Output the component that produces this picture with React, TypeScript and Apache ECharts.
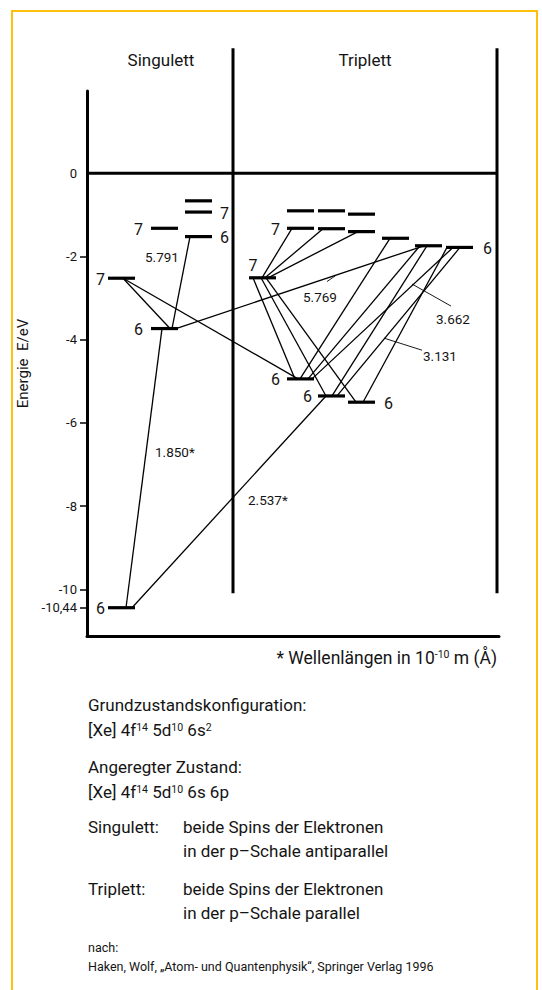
import { useEffect, useRef } from "react";
import * as echarts from "echarts";

// ---------- data ----------
const energyTickLabels = [0, -2, -4, -6, -8, -10, -10.44];
const energyTickMarks = [-2, -4, -6, -8, -10, -10.44];

// energy levels of mercury (Hg)
const levelIds = ["S6", "S7", "P6", "P7", "D6", "D7", "D8", "tS7", "tP0_6", "tP1_6", "tP2_6", "tP0_7", "tP1_7", "tP2_7", "tP0_8", "tP1_8", "tP2_8", "tD1", "tD2", "tD3"];
const levelColumns = ["sS", "sS", "sP", "sP", "sD", "sD", "sD", "tS", "tP0", "tP1", "tP2", "tP0", "tP1", "tP2", "tP0", "tP1", "tP2", "tD1", "tD2", "tD3"];
const levelEnergies = [-10.44, -2.52, -3.73, -1.32, -1.52, -0.93, -0.66, -2.51, -4.94, -5.35, -5.5, -1.32, -1.33, -1.4, -0.9, -0.9, -0.98, -1.56, -1.74, -1.78];
const levelLabels = ["6", "7", "6", "7", "6", "7", "", "7", "6", "6", "6", "7", "", "", "", "", "", "", "", "6"];

// transitions (from level, to level)
const transitionFrom = ["S6", "P6", "S7", "S7", "P6", "tS7", "tS7", "tS7", "tS7", "tS7", "tS7", "S6", "tD1", "tD2", "tD2", "tD3", "tD3", "tD3"];
const transitionTo = ["P6", "D6", "P6", "tP0_6", "tD2", "tP0_7", "tP1_7", "tP2_7", "tP0_6", "tP1_6", "tP2_6", "tP1_6", "tP0_6", "tP0_6", "tP1_6", "tP2_6", "tP0_6", "tP1_6"];
// wavelengths in 10^-10 m (thousands)
const wavelengthLabels = ["1.850*", "5.791", "5.769", "2.537*", "3.662", "3.131"];

// ---------- layout (not data) ----------
const COLUMN_START: Record<string, number> = { sS: 21, sP: 64, sD: 98, tS: 162, tP0: 200, tP1: 231, tP2: 261, tD1: 295, tD2: 328, tD3: 359 };
const LEVEL_WIDTH = 27;
const fromOffset = [18, 21, 15, 15, 25, 13, 16, 19, 4, 12, 17, 24, 8, 5, 12, 1, 7, 14];
const toOffset = [11, 5, 19, 11, 9, 5, 5, 10, 8, 8, 8, 8, 13, 21, 14, 15, 25, 19];
const labelSide = ["left", "left", "left", "left", "right", "right", "", "top", "left", "left", "right", "left", "", "", "", "", "", "", "", "right"];
const labelGap = [3, 3, 8, 8, 8, 8, 0, 4, 7, 6, 9, 7, 0, 0, 0, 0, 0, 0, 0, 10];
// wavelength label anchor (x units, energy)
const wlPos: [number, number][] = [[68, -6.7], [58, -2.01], [216, -2.97], [161, -7.85], [349, -3.5], [336, -4.39]];
// leader lines for some labels
const leaders: [number, number, number, number][] = [
  [240, -2.6, 249, -2.45],
  [325, -2.66, 364, -3.19],
  [297, -3.96, 335, -4.25],
];

const FONT = "Roboto, 'Noto Sans', sans-serif";
const INK = "#141414";
const BORDER = "#FDC010";

function levelIndex(id: string) {
  return levelIds.indexOf(id);
}

export default function App() {
  const ref = useRef<HTMLDivElement>(null);

  useEffect(() => {
    if (!ref.current) return;
    const chart = echarts.init(ref.current, undefined, { renderer: "svg" });

    const levelData = levelIds.map((_, i) => {
      const x0 = COLUMN_START[levelColumns[i]];
      return [x0, levelEnergies[i], x0 + LEVEL_WIDTH, levelEnergies[i]];
    });

    const transitionData = transitionFrom.map((f, k) => {
      const a = levelIndex(f);
      const b = levelIndex(transitionTo[k]);
      return [
        COLUMN_START[levelColumns[a]] + fromOffset[k],
        levelEnergies[a],
        COLUMN_START[levelColumns[b]] + toOffset[k],
        levelEnergies[b],
      ];
    });

    const labelData = levelIds
      .map((_, i) => i)
      .filter((i) => levelLabels[i] !== "")
      .map((i) => {
        const x0 = COLUMN_START[levelColumns[i]];
        const side = labelSide[i];
        const x = side === "right" ? x0 + LEVEL_WIDTH : side === "top" ? x0 + 4 : x0;
        return [x, levelEnergies[i], i];
      });

    const lineItem = (w: number) => (params: any, api: any) => {
      const p0 = api.coord([api.value(0), api.value(1)]);
      const p1 = api.coord([api.value(2), api.value(3)]);
      return {
        type: "line",
        shape: { x1: p0[0], y1: p0[1], x2: p1[0], y2: p1[1] },
        style: { stroke: "#000", lineWidth: w, lineCap: "butt" },
      };
    };

    const structLine = (data: number[][]) => ({
      type: "line",
      data,
      symbol: "none",
      clip: false,
      silent: true,
      lineStyle: { color: "#000", width: 3 },
    });

    const richSup = { s: { fontSize: 10.5, fontFamily: FONT, verticalAlign: "top", fill: INK } };

    const borderLine = (x1: number, y1: number, x2: number, y2: number) => ({
      type: "line",
      shape: { x1, y1, x2, y2 },
      style: { stroke: BORDER, lineWidth: 2 },
      silent: true,
    });

    chart.setOption({
      animation: false,
      grid: { left: 87, right: 43, top: 91, bottom: 354 },
      xAxis: {
        type: "value",
        min: 0,
        max: 412,
        axisLine: { show: true, onZero: false, lineStyle: { color: "#000", width: 3 } },
        axisTick: { show: false },
        axisLabel: { show: false },
        splitLine: { show: false },
      },
      yAxis: {
        type: "value",
        min: -11.12,
        max: 1.98,
        name: "Energie  E/eV",
        nameLocation: "middle",
        nameGap: 38,
        nameRotate: 90,
        nameTextStyle: { fontFamily: FONT, fontSize: 15, color: INK },
        axisLine: { show: true, onZero: false, lineStyle: { color: "#000", width: 3 } },
        axisTick: { show: true, customValues: energyTickMarks, length: 7, lineStyle: { color: "#000", width: 1.5 } },
        axisLabel: {
          customValues: energyTickLabels,
          margin: 10,
          fontFamily: FONT,
          fontSize: 13,
          color: INK,
          formatter: (v: number) => (Math.abs(v + 10.44) < 1e-6 ? "-10,44" : String(v)),
        },
        splitLine: { show: false },
      },
      graphic: [
        borderLine(12, 10, 12, 990),
        borderLine(11, 11, 538, 11),
        borderLine(537, 10, 537, 990),
        { type: "text", x: 161, y: 60, style: { text: "Singulett", font: `17px ${FONT}`, fill: INK, align: "center", verticalAlign: "middle" } },
        { type: "text", x: 365, y: 60, style: { text: "Triplett", font: `17px ${FONT}`, fill: INK, align: "center", verticalAlign: "middle" } },
        {
          type: "text",
          x: 497,
          y: 658,
          style: {
            text: "* Wellenlängen in 10{s|-10} m (Å)",
            font: `17.5px ${FONT}`,
            fill: INK,
            align: "right",
            verticalAlign: "middle",
            rich: richSup,
          },
        },
        ...[
          [88, 705, "Grundzustandskonfiguration:"],
          [88, 730, "[Xe] 4f{s|14} 5d{s|10} 6s{s|2}"],
          [88, 767, "Angeregter Zustand:"],
          [88, 792, "[Xe] 4f{s|14} 5d{s|10} 6s 6p"],
          [88, 827, "Singulett:"],
          [183, 827, "beide Spins der Elektronen"],
          [183, 851, "in der p–Schale antiparallel"],
          [88, 889, "Triplett:"],
          [183, 889, "beide Spins der Elektronen"],
          [183, 913, "in der p–Schale parallel"],
        ].map(([x, y, t]) => ({
          type: "text",
          x,
          y,
          style: {
            text: t,
            font: `17px ${FONT}`,
            fill: INK,
            align: "left",
            verticalAlign: "middle",
            rich: richSup,
          },
        })),
        { type: "text", x: 88, y: 947, style: { text: "nach:", font: `12.5px ${FONT}`, fill: INK, align: "left", verticalAlign: "middle" } },
        {
          type: "text",
          x: 88,
          y: 966,
          style: { text: "Haken, Wolf, „Atom- und Quantenphysik“, Springer Verlag 1996", font: `12.5px ${FONT}`, fill: INK, align: "left", verticalAlign: "middle" },
        },
      ],
      series: [
        structLine([[146, 3.01], [146, -10.09]]),
        structLine([[410, 3.01], [410, -10.09]]),
        structLine([[0, 0], [410, 0]]),
        {
          type: "custom",
          name: "levels",
          coordinateSystem: "cartesian2d",
          data: levelData,
          encode: { x: [0, 2], y: [1, 3] },
          renderItem: lineItem(3.2),
          silent: true,
        },
        {
          type: "custom",
          name: "transitions",
          coordinateSystem: "cartesian2d",
          data: transitionData,
          encode: { x: [0, 2], y: [1, 3] },
          renderItem: lineItem(1.3),
          silent: true,
        },
        {
          type: "custom",
          name: "leaders",
          coordinateSystem: "cartesian2d",
          data: leaders,
          encode: { x: [0, 2], y: [1, 3] },
          renderItem: lineItem(0.9),
          silent: true,
        },
        {
          type: "custom",
          name: "levelLabels",
          coordinateSystem: "cartesian2d",
          data: labelData,
          encode: { x: 0, y: 1 },
          silent: true,
          renderItem: (params: any, api: any) => {
            const i = api.value(2);
            const p = api.coord([api.value(0), api.value(1)]);
            const side = labelSide[i];
            const gap = labelGap[i];
            let x = p[0];
            let y = p[1] + 1;
            let align = "left";
            let va = "middle";
            if (side === "left") {
              x -= gap;
              align = "right";
            } else if (side === "right") {
              x += gap;
            } else {
              y = p[1] - gap;
              align = "center";
              va = "bottom";
            }
            return {
              type: "text",
              x,
              y,
              style: { text: levelLabels[i], font: `16px ${FONT}`, fill: INK, align, verticalAlign: va },
            };
          },
        },
        {
          type: "custom",
          name: "wavelengths",
          coordinateSystem: "cartesian2d",
          data: wlPos.map((p, k) => [p[0], p[1], k]),
          encode: { x: 0, y: 1 },
          silent: true,
          renderItem: (params: any, api: any) => {
            const k = api.value(2);
            const p = api.coord([api.value(0), api.value(1)]);
            return {
              type: "text",
              x: p[0],
              y: p[1],
              style: { text: wavelengthLabels[k], font: `13.5px ${FONT}`, fill: INK, align: "left", verticalAlign: "middle" },
            };
          },
        },
      ],
    });

    return () => chart.dispose();
  }, []);

  return <div ref={ref} style={{ position: "fixed", left: 0, top: 0, width: 542, height: 990, background: "#fff" }} />;
}
